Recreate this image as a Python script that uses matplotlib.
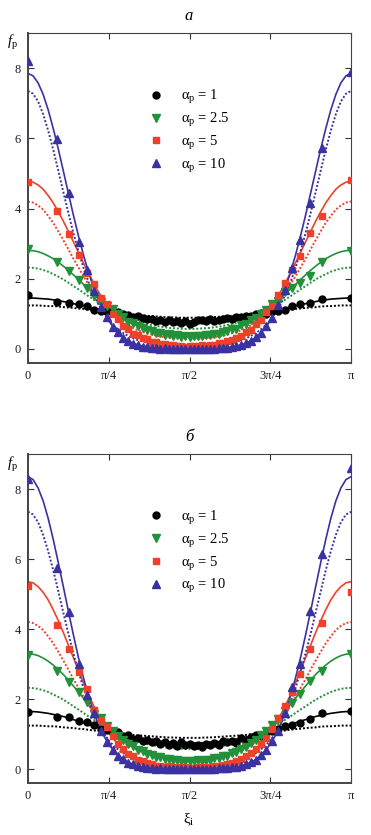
import numpy as np
import matplotlib
matplotlib.use("Agg")
import matplotlib.pyplot as plt

plt.rcParams['font.family'] = ['Liberation Serif', 'DejaVu Serif']
plt.rcParams['mathtext.fontset'] = 'custom'
plt.rcParams['mathtext.rm'] = 'Liberation Serif'
plt.rcParams['mathtext.it'] = 'Liberation Serif:italic'

# ---------------- data ----------------
alpha_labels = ['1', '2.5', '5', '10']
xtick_labels = ['0', 'π/4', 'π/2', '3π/4', 'π']
ytick_values = [0, 2, 4, 6, 8]

# angle grid of the theoretical curves (65 points, 0..pi)
xi_line = np.linspace(0, np.pi, 65)

# angles of the simulated points
xi_pts = [0.0000, 0.2838, 0.4027, 0.4949, 0.5735, 0.6435, 0.7075, 0.7670, 0.8230,
          0.8763, 0.9273, 0.9764, 1.0239, 1.0701, 1.1152, 1.1593, 1.2025, 1.2451,
          1.2870, 1.3284, 1.3694, 1.4101, 1.4505, 1.4907, 1.5308, 1.5708,
          1.6108, 1.6509, 1.6911, 1.7315, 1.7722, 1.8132, 1.8546, 1.8965, 1.9391,
          1.9823, 2.0264, 2.0715, 2.1177, 2.1652, 2.2143, 2.2653, 2.3186, 2.3746,
          2.4341, 2.4981, 2.5681, 2.6467, 2.7389, 2.8578, 3.1416]

# panel a: solid curves
solid_a_1 = [1.45, 1.45, 1.44, 1.43, 1.42, 1.40, 1.38, 1.35, 1.32, 1.29, 1.26, 1.23, 1.20, 1.16, 1.13, 1.09, 1.06,
             1.03, 1.00, 0.97, 0.94, 0.92, 0.90, 0.88, 0.86, 0.84, 0.83, 0.82, 0.81, 0.80, 0.79, 0.79, 0.79,
             0.79, 0.79, 0.80, 0.81, 0.82, 0.83, 0.84, 0.86, 0.88, 0.90, 0.92, 0.94, 0.97, 1.00, 1.03, 1.06,
             1.09, 1.13, 1.16, 1.20, 1.23, 1.26, 1.29, 1.32, 1.35, 1.38, 1.40, 1.42, 1.43, 1.44, 1.45, 1.45]
solid_a_25 = [2.81, 2.80, 2.77, 2.72, 2.65, 2.57, 2.47, 2.36, 2.24, 2.11, 1.98, 1.84, 1.71, 1.57, 1.44, 1.31, 1.19,
              1.08, 0.97, 0.88, 0.79, 0.71, 0.65, 0.59, 0.53, 0.49, 0.45, 0.42, 0.40, 0.38, 0.37, 0.36, 0.36,
              0.36, 0.37, 0.38, 0.40, 0.42, 0.45, 0.49, 0.53, 0.59, 0.65, 0.71, 0.79, 0.88, 0.97, 1.08, 1.19,
              1.31, 1.44, 1.57, 1.71, 1.84, 1.98, 2.11, 2.24, 2.36, 2.47, 2.57, 2.65, 2.72, 2.77, 2.80, 2.81]
solid_a_5 = [4.78, 4.75, 4.67, 4.55, 4.37, 4.16, 3.91, 3.64, 3.35, 3.05, 2.75, 2.45, 2.16, 1.88, 1.62, 1.39, 1.17,
             0.98, 0.82, 0.67, 0.55, 0.45, 0.36, 0.29, 0.24, 0.19, 0.16, 0.13, 0.11, 0.10, 0.09, 0.08, 0.08,
             0.08, 0.09, 0.10, 0.11, 0.13, 0.16, 0.19, 0.24, 0.29, 0.36, 0.45, 0.55, 0.67, 0.82, 0.98, 1.17,
             1.39, 1.62, 1.88, 2.16, 2.45, 2.75, 3.05, 3.35, 3.64, 3.91, 4.16, 4.37, 4.55, 4.67, 4.75, 4.78]
solid_a_10 = [7.85, 7.78, 7.58, 7.25, 6.81, 6.28, 5.70, 5.07, 4.44, 3.81, 3.22, 2.67, 2.18, 1.74, 1.37, 1.06, 0.80,
              0.60, 0.44, 0.31, 0.22, 0.15, 0.11, 0.07, 0.05, 0.03, 0.02, 0.01, 0.01, 0.00, 0.00, 0.00, 0.00,
              0.00, 0.00, 0.00, 0.01, 0.01, 0.02, 0.03, 0.05, 0.07, 0.11, 0.15, 0.22, 0.31, 0.44, 0.60, 0.80,
              1.06, 1.37, 1.74, 2.18, 2.67, 3.22, 3.81, 4.44, 5.07, 5.70, 6.28, 6.81, 7.25, 7.58, 7.78, 7.85]

# panel б: solid curves
solid_b_1 = [1.64, 1.64, 1.63, 1.61, 1.59, 1.56, 1.53, 1.50, 1.46, 1.41, 1.37, 1.32, 1.27, 1.23, 1.18, 1.13, 1.09,
             1.05, 1.01, 0.97, 0.93, 0.90, 0.87, 0.85, 0.83, 0.81, 0.79, 0.77, 0.76, 0.75, 0.75, 0.74, 0.74,
             0.74, 0.75, 0.75, 0.76, 0.77, 0.79, 0.81, 0.83, 0.85, 0.87, 0.90, 0.93, 0.97, 1.01, 1.05, 1.09,
             1.13, 1.18, 1.23, 1.27, 1.32, 1.37, 1.41, 1.46, 1.50, 1.53, 1.56, 1.59, 1.61, 1.63, 1.64, 1.64]
solid_b_25 = [3.29, 3.28, 3.24, 3.17, 3.08, 2.97, 2.84, 2.70, 2.54, 2.37, 2.20, 2.02, 1.84, 1.67, 1.51, 1.35, 1.20,
              1.06, 0.93, 0.82, 0.72, 0.63, 0.55, 0.48, 0.42, 0.37, 0.33, 0.30, 0.27, 0.25, 0.24, 0.23, 0.23,
              0.23, 0.24, 0.25, 0.27, 0.30, 0.33, 0.37, 0.42, 0.48, 0.55, 0.63, 0.72, 0.82, 0.93, 1.06, 1.20,
              1.35, 1.51, 1.67, 1.84, 2.02, 2.20, 2.37, 2.54, 2.70, 2.84, 2.97, 3.08, 3.17, 3.24, 3.28, 3.29]
solid_b_5 = [5.35, 5.32, 5.21, 5.05, 4.83, 4.55, 4.24, 3.90, 3.54, 3.18, 2.81, 2.46, 2.12, 1.81, 1.53, 1.27, 1.04,
             0.85, 0.68, 0.54, 0.43, 0.34, 0.26, 0.20, 0.16, 0.12, 0.10, 0.08, 0.06, 0.05, 0.05, 0.05, 0.04,
             0.05, 0.05, 0.05, 0.06, 0.08, 0.10, 0.12, 0.16, 0.20, 0.26, 0.34, 0.43, 0.54, 0.68, 0.85, 1.04,
             1.27, 1.53, 1.81, 2.12, 2.46, 2.81, 3.18, 3.54, 3.90, 4.24, 4.55, 4.83, 5.05, 5.21, 5.32, 5.35]
solid_b_10 = [8.35, 8.27, 8.03, 7.66, 7.16, 6.56, 5.90, 5.21, 4.51, 3.83, 3.18, 2.60, 2.08, 1.64, 1.26, 0.95, 0.71,
              0.52, 0.37, 0.26, 0.18, 0.12, 0.08, 0.05, 0.03, 0.02, 0.01, 0.01, 0.00, 0.00, 0.00, 0.00, 0.00,
              0.00, 0.00, 0.00, 0.00, 0.01, 0.01, 0.02, 0.03, 0.05, 0.08, 0.12, 0.18, 0.26, 0.37, 0.52, 0.71,
              0.95, 1.26, 1.64, 2.08, 2.60, 3.18, 3.83, 4.51, 5.21, 5.90, 6.56, 7.16, 7.66, 8.03, 8.27, 8.35]

# dotted curves (same in both panels)
dotted_1 = [1.24, 1.24, 1.24, 1.23, 1.22, 1.22, 1.21, 1.19, 1.18, 1.17, 1.15, 1.14, 1.12, 1.10, 1.09, 1.07, 1.05,
            1.03, 1.02, 1.00, 0.99, 0.97, 0.96, 0.95, 0.94, 0.93, 0.92, 0.91, 0.90, 0.90, 0.89, 0.89, 0.89,
            0.89, 0.89, 0.90, 0.90, 0.91, 0.92, 0.93, 0.94, 0.95, 0.96, 0.97, 0.99, 1.00, 1.02, 1.03, 1.05,
            1.07, 1.09, 1.10, 1.12, 1.14, 1.15, 1.17, 1.18, 1.19, 1.21, 1.22, 1.22, 1.23, 1.24, 1.24, 1.24]
dotted_25 = [2.32, 2.31, 2.29, 2.25, 2.20, 2.13, 2.06, 1.98, 1.89, 1.79, 1.70, 1.60, 1.50, 1.41, 1.32, 1.23, 1.15,
             1.07, 1.00, 0.94, 0.88, 0.83, 0.78, 0.74, 0.70, 0.67, 0.64, 0.62, 0.60, 0.59, 0.58, 0.57, 0.57,
             0.57, 0.58, 0.59, 0.60, 0.62, 0.64, 0.67, 0.70, 0.74, 0.78, 0.83, 0.88, 0.94, 1.00, 1.07, 1.15,
             1.23, 1.32, 1.41, 1.50, 1.60, 1.70, 1.79, 1.89, 1.98, 2.06, 2.13, 2.20, 2.25, 2.29, 2.31, 2.32]
dotted_5 = [4.20, 4.17, 4.09, 3.97, 3.79, 3.59, 3.35, 3.10, 2.84, 2.57, 2.32, 2.07, 1.84, 1.62, 1.43, 1.25, 1.10,
            0.96, 0.85, 0.75, 0.66, 0.58, 0.52, 0.47, 0.43, 0.39, 0.36, 0.34, 0.32, 0.31, 0.30, 0.29, 0.29,
            0.29, 0.30, 0.31, 0.32, 0.34, 0.36, 0.39, 0.43, 0.47, 0.52, 0.58, 0.66, 0.75, 0.85, 0.96, 1.10,
            1.25, 1.43, 1.62, 1.84, 2.07, 2.32, 2.57, 2.84, 3.10, 3.35, 3.59, 3.79, 3.97, 4.09, 4.17, 4.20]
dotted_10 = [7.35, 7.27, 7.05, 6.69, 6.22, 5.68, 5.08, 4.47, 3.87, 3.30, 2.78, 2.31, 1.90, 1.55, 1.26, 1.02, 0.82,
             0.66, 0.54, 0.44, 0.36, 0.29, 0.24, 0.21, 0.17, 0.15, 0.13, 0.12, 0.11, 0.10, 0.10, 0.09, 0.09,
             0.09, 0.10, 0.10, 0.11, 0.12, 0.13, 0.15, 0.17, 0.21, 0.24, 0.29, 0.36, 0.44, 0.54, 0.66, 0.82,
             1.02, 1.26, 1.55, 1.90, 2.31, 2.78, 3.30, 3.87, 4.47, 5.08, 5.68, 6.22, 6.69, 7.05, 7.27, 7.35]

# panel a: simulated points
pts_a_1 = [1.54, 1.35, 1.31, 1.29, 1.21, 1.11, 1.09, 1.09, 1.05, 1.06, 1.00, 0.98, 0.90, 0.93, 0.88, 0.84, 0.86,
           0.81, 0.83, 0.78, 0.82, 0.77, 0.80, 0.74, 0.79, 0.72, 0.76, 0.82, 0.83, 0.80, 0.84, 0.81, 0.83, 0.85,
           0.87, 0.86, 0.90, 0.92, 0.95, 0.93, 1.00, 1.03, 0.99, 1.08, 1.09, 1.11, 1.21, 1.29, 1.31, 1.42, 1.46]
pts_a_25 = [2.84, 2.47, 2.21, 1.97, 1.73, 1.50, 1.35, 1.23, 1.14, 1.01, 0.90, 0.78, 0.73, 0.64, 0.61, 0.53, 0.52,
            0.46, 0.46, 0.41, 0.42, 0.37, 0.39, 0.35, 0.37, 0.34, 0.36, 0.38, 0.36, 0.40, 0.39, 0.43, 0.44, 0.49,
            0.50, 0.56, 0.58, 0.67, 0.71, 0.82, 0.87, 1.00, 1.10, 1.27, 1.36, 1.62, 1.73, 1.89, 2.07, 2.47, 2.80]
pts_a_5 = [4.75, 3.92, 3.28, 2.69, 2.15, 1.84, 1.45, 1.27, 1.00, 0.86, 0.66, 0.57, 0.44, 0.39, 0.30, 0.27, 0.20,
           0.19, 0.14, 0.13, 0.10, 0.11, 0.08, 0.09, 0.07, 0.08, 0.08, 0.09, 0.10, 0.09, 0.12, 0.12, 0.16, 0.17,
           0.22, 0.25, 0.32, 0.37, 0.47, 0.55, 0.70, 0.83, 1.06, 1.23, 1.55, 1.88, 2.26, 2.64, 3.30, 3.78, 4.80]
pts_a_10 = [8.20, 5.97, 4.45, 3.04, 2.24, 1.64, 1.20, 0.90, 0.62, 0.47, 0.32, 0.24, 0.15, 0.12, 0.07, 0.06, 0.03,
            0.03, 0.01, 0.02, 0.00, 0.01, 0.00, 0.01, 0.00, 0.00, 0.00, 0.01, 0.00, 0.01, 0.01, 0.01, 0.02, 0.03,
            0.04, 0.05, 0.09, 0.10, 0.17, 0.22, 0.34, 0.45, 0.66, 0.87, 1.25, 1.68, 2.30, 3.11, 4.16, 5.73, 7.90]

# panel б: simulated points
pts_b_1 = [1.63, 1.48, 1.48, 1.38, 1.33, 1.26, 1.14, 1.12, 1.04, 1.06, 0.93, 0.96, 0.86, 0.89, 0.80, 0.83, 0.76,
           0.79, 0.72, 0.77, 0.70, 0.74, 0.66, 0.76, 0.69, 0.71, 0.66, 0.70, 0.63, 0.72, 0.69, 0.75, 0.70, 0.79,
           0.76, 0.80, 0.74, 0.88, 0.84, 0.92, 0.97, 0.94, 1.04, 1.10, 1.13, 1.22, 1.26, 1.31, 1.42, 1.60, 1.66]
pts_b_25 = [3.25, 2.81, 2.48, 2.19, 1.92, 1.57, 1.45, 1.22, 1.10, 0.93, 0.84, 0.71, 0.65, 0.55, 0.51, 0.43, 0.40,
            0.34, 0.33, 0.29, 0.28, 0.25, 0.25, 0.22, 0.24, 0.22, 0.23, 0.25, 0.23, 0.27, 0.26, 0.31, 0.31, 0.36,
            0.38, 0.45, 0.49, 0.57, 0.63, 0.74, 0.82, 0.97, 1.08, 1.27, 1.42, 1.67, 1.88, 2.14, 2.52, 2.81, 3.30]
pts_b_5 = [5.23, 4.11, 3.43, 2.76, 2.29, 1.69, 1.41, 1.19, 0.95, 0.72, 0.58, 0.43, 0.36, 0.27, 0.23, 0.16, 0.15,
           0.10, 0.10, 0.07, 0.08, 0.05, 0.06, 0.04, 0.05, 0.04, 0.04, 0.05, 0.05, 0.07, 0.06, 0.09, 0.10, 0.12,
           0.15, 0.18, 0.23, 0.29, 0.36, 0.45, 0.57, 0.72, 0.90, 1.15, 1.45, 1.79, 2.19, 2.71, 3.43, 4.17, 5.06]
pts_b_10 = [8.30, 5.74, 4.50, 3.00, 2.12, 1.60, 1.08, 0.76, 0.55, 0.38, 0.28, 0.17, 0.13, 0.08, 0.06, 0.04, 0.03,
            0.01, 0.02, 0.00, 0.01, 0.00, 0.00, 0.01, 0.00, 0.00, 0.00, 0.00, 0.01, 0.00, 0.01, 0.01, 0.02, 0.02,
            0.04, 0.05, 0.07, 0.09, 0.13, 0.19, 0.26, 0.40, 0.54, 0.80, 1.10, 1.60, 2.33, 3.00, 4.52, 6.14, 8.60]

solid_a = [solid_a_1, solid_a_25, solid_a_5, solid_a_10]
solid_b = [solid_b_1, solid_b_25, solid_b_5, solid_b_10]
dotted = [dotted_1, dotted_25, dotted_5, dotted_10]
pts_a = [pts_a_1, pts_a_25, pts_a_5, pts_a_10]
pts_b = [pts_b_1, pts_b_25, pts_b_5, pts_b_10]

# ---------------- style ----------------
colors = ['#000000', '#23913a', '#ef4129', '#3a32a0']
markers = ['o', 'v', 's', '^']
msz = [5, 5.5, 5, 5.5]

W, H = 371, 835
fig = plt.figure(figsize=(W/100, H/100), dpi=100)


def make_ax(top, bottom, solid, pts, title, xlabel=None):
    ax = fig.add_axes([28/W, (H-bottom)/H, 323/W, (bottom-top)/H])
    for i in range(4):
        ax.plot(xi_line, solid[i], color=colors[i], lw=1.2, zorder=2)
        ax.plot(xi_line, dotted[i], color=colors[i], lw=1.4, ls=(0, (1, 1)), zorder=2)
    for i in range(4):
        ax.plot(xi_pts, pts[i], ls='none', marker=markers[i], ms=msz[i],
                color=colors[i], mec=colors[i], zorder=3,
                label=r'$\mathrm{α}_\mathrm{p}$ = ' + alpha_labels[i])
    ax.set_xlim(0, np.pi)
    ax.set_ylim(-0.4, 9.0)
    ax.set_xticks(np.linspace(0, np.pi, 5))
    ax.set_xticklabels(xtick_labels)
    ax.set_yticks(ytick_values)
    ax.tick_params(direction='in', top=True, right=True, length=4, width=0.8,
                   labelsize=9, pad=5, colors='#333333', labelcolor='#1a1a2e')
    for s in ['left', 'bottom']:
        ax.spines[s].set_linewidth(1.4)
    for s in ['top', 'right']:
        ax.spines[s].set_linewidth(0.8)
    for s in ax.spines.values():
        s.set_color('#444444')
    ax.legend(loc='upper left', bbox_to_anchor=(0.375, 0.834), frameon=False,
              handlelength=1.0, handletextpad=1.2, borderpad=0, borderaxespad=0,
              labelspacing=0.34, fontsize=10.5)
    fig.text(12/W, (H-top-10)/H, r'$f_\mathrm{p}$', fontsize=10.5, ha='center', va='center')
    fig.text(189/W, (H-(top-17))/H, title, fontsize=12, style='italic', ha='center', va='center')
    if xlabel:
        fig.text(189/W, (H-820)/H, xlabel, fontsize=11, ha='center', va='center')
    return ax


make_ax(33, 363, solid_a, pts_a, 'а')
make_ax(454, 783, solid_b, pts_b, 'б', r'$\mathrm{ξ}_\mathrm{i}$')

fig.savefig('out.png', dpi=100)
